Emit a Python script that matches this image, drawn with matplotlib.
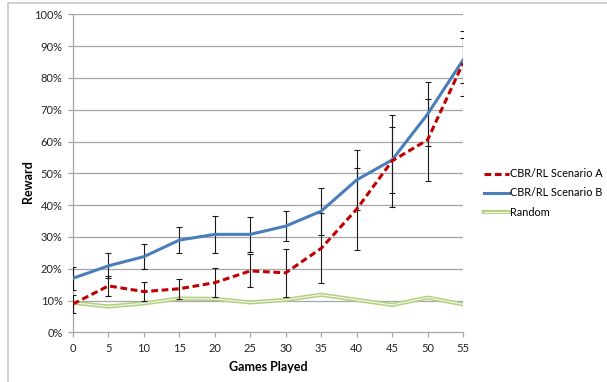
import matplotlib
matplotlib.use("Agg")
import matplotlib.pyplot as plt
from matplotlib.lines import Line2D
from matplotlib.legend_handler import HandlerTuple
from matplotlib.patches import Rectangle

games = [0, 5, 10, 15, 20, 25, 30, 35, 40, 45, 50, 55]
scenario_a = [8.9, 14.6, 12.8, 13.7, 15.6, 19.3, 18.7, 26.4, 38.7, 53.9, 60.5, 84.6]
scenario_a_err = [2.8, 3.1, 3.1, 3.1, 4.5, 5.2, 7.5, 11.0, 12.9, 14.4, 12.8, 10.3]
scenario_b = [17.0, 20.9, 23.8, 29.0, 30.8, 30.8, 33.4, 38.1, 47.9, 54.2, 68.6, 85.6]
scenario_b_err = [3.6, 3.9, 3.9, 4.2, 5.8, 5.5, 4.8, 7.4, 9.3, 10.4, 10.1, 7.1]
random_vals = [9.3, 8.1, 9.1, 10.6, 10.5, 9.4, 10.2, 11.8, 10.2, 8.6, 10.9, 8.8]
yticks = [0, 10, 20, 30, 40, 50, 60, 70, 80, 90, 100]
xticks = [0, 5, 10, 15, 20, 25, 30, 35, 40, 45, 50, 55]

plt.rcParams['font.family'] = ['Lato', 'DejaVu Sans']

fig = plt.figure(figsize=(6.07, 3.82), dpi=100)
# outer chart frame
fig.patches.append(Rectangle((8/607, -0.05), 1.1, (382-3)/382 + 0.05, transform=fig.transFigure,
                             fill=False, edgecolor='#C8C8C8', lw=1.2, zorder=0))

ax = fig.add_axes([73/607, 49.7/382, 390/607, 318/382])
ax.set_xlim(0, 55)
ax.set_ylim(0, 100)

for y in yticks[1:]:
    ax.axhline(y, color='#A6A6A6', lw=0.9, zorder=1)

# Random: double green line
g_out, = ax.plot(games, random_vals, color='#B3CE7E', lw=3.0, zorder=3)
g_in, = ax.plot(games, random_vals, color='#F0F5E6', lw=0.9, zorder=3.1)

ax.errorbar(games, scenario_b, yerr=scenario_b_err, fmt='none', ecolor='#1a1a1a',
            elinewidth=0.8, capsize=2, capthick=0.8, zorder=4)
ax.errorbar(games, scenario_a, yerr=scenario_a_err, fmt='none', ecolor='#1a1a1a',
            elinewidth=0.8, capsize=2, capthick=0.8, zorder=4)

lb, = ax.plot(games, scenario_b, color='#4A7EBB', lw=2.2, zorder=5)
la, = ax.plot(games, scenario_a, color='#C00000', lw=2.2, ls=(0, (2.2, 1.2)), zorder=6)

ax.set_xticks(xticks)
ax.set_yticks(yticks)
ax.set_yticklabels([f"{v}%" for v in yticks])
for s in ['top', 'right']:
    ax.spines[s].set_visible(False)
for s in ['left', 'bottom']:
    ax.spines[s].set_color('#A6A6A6')
    ax.spines[s].set_linewidth(0.9)
ax.tick_params(axis='both', direction='out', length=3.5, width=0.9, color='#A6A6A6',
               labelsize=8, labelcolor='#222222', pad=4)

ax.set_xlabel('Games Played', fontsize=9, fontweight='bold', labelpad=5)
fig.text(28/607, 1 - 182/382, 'Reward', rotation=90, fontsize=9, fontweight='bold',
         ha='center', va='center')

handles = [la, lb, (g_out, g_in)]
labels = ['CBR/RL Scenario A', 'CBR/RL Scenario B', 'Random']
fig.legend(handles, labels, loc='center left', bbox_to_anchor=(474/607, 1 - 193/382),
           frameon=False, fontsize=7.8, handlelength=2.3, handletextpad=0.15,
           labelspacing=0.75, handler_map={tuple: HandlerTuple(ndivide=1)})

fig.savefig('out.png', dpi=100)
